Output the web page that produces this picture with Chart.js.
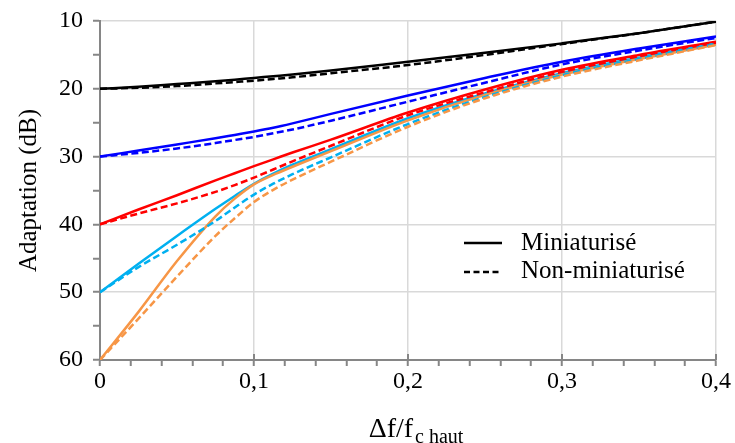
<!DOCTYPE html>
<html>
<head>
<meta charset="utf-8">
<script src="https://cdn.jsdelivr.net/npm/chart.js@4/dist/chart.umd.min.js"></script>
<style>
  html, body { margin: 0; padding: 0; background: #fff; }
  #wrap { width: 735px; height: 443px; }
</style>
</head>
<body>
<div id="wrap"><canvas id="myChart" width="735" height="443"></canvas></div>
<script>
// valeurs
const xs = [0, 0.025, 0.05, 0.075, 0.0875, 0.1, 0.1125, 0.125, 0.15, 0.2, 0.25, 0.3, 0.35, 0.4];

const black20 = [20, 19.7, 19.3, 18.9, 18.65, 18.4, 18.15, 17.9, 17.3, 16.0, 14.7, 13.3, 11.8, 10.1];
const black20NM = [20, 19.85, 19.6, 19.2, 19.0, 18.8, 18.55, 18.3, 17.7, 16.5, 15.0, 13.4, 11.8, 10.1];
const blue30 = [30, 29.1, 28.2, 27.3, 26.8, 26.3, 25.75, 25.1, 23.7, 21.0, 18.4, 16.0, 14.05, 12.3];
const blue30NM = [30, 29.45, 28.8, 28.0, 27.55, 27.1, 26.55, 26.0, 24.7, 21.9, 19.1, 16.4, 14.35, 12.5];
const red40 = [40, 37.8, 35.7, 33.5, 32.45, 31.4, 30.4, 29.4, 27.5, 23.5, 20.1, 17.2, 15.0, 13.05];
const red40NM = [40, 38.4, 36.9, 35.2, 34.2, 33.1, 31.9, 30.7, 28.4, 23.9, 20.5, 17.5, 15.2, 13.2];
const cyan50 = [50, 45.8, 41.7, 37.7, 35.8, 34.0, 32.5, 31.2, 28.9, 24.35, 20.7, 17.7, 15.4, 13.35];
const cyan50NM = [50, 46.3, 43.0, 39.5, 37.5, 35.6, 34.0, 32.6, 30.1, 25.2, 21.2, 18.0, 15.6, 13.4];
const orange60 = [60, 52.9, 45.4, 38.8, 36.2, 34.1, 32.7, 31.5, 29.2, 24.65, 20.9, 17.9, 15.6, 13.5];
const orange60NM = [60, 53.9, 47.7, 41.7, 39.1, 36.7, 34.9, 33.4, 30.75, 25.6, 21.4, 18.2, 15.8, 13.55];

const yTickLabels = ['10', '20', '30', '40', '50', '60'];
const xTickLabels = ['0', '0,1', '0,2', '0,3', '0,4'];
const legendLabels = ['Miniaturisé', 'Non-miniaturisé'];

const FONT = '"Liberation Serif", serif';
const AXIS_GREY = '#868686';
const GRID_GREY = '#d9d9d9';
const LINE_W = 2.5;
const DASH = [7, 3.5];

function makeDataset(values, color, dashed) {
  return {
    data: xs.map((x, i) => ({ x: x, y: values[i] })),
    borderColor: color,
    backgroundColor: color,
    borderWidth: LINE_W,
    borderDash: dashed ? DASH : [],
    pointRadius: 0,
    cubicInterpolationMode: 'monotone',
    fill: false
  };
}

// pointillés d'abord, trait plein par dessus
const datasets = [
  makeDataset(orange60NM, '#f79646', true),
  makeDataset(cyan50NM, '#00b0f0', true),
  makeDataset(red40NM, '#ff0000', true),
  makeDataset(blue30NM, '#0000ff', true),
  makeDataset(black20NM, '#000000', true),
  makeDataset(orange60, '#f79646', false),
  makeDataset(cyan50, '#00b0f0', false),
  makeDataset(red40, '#ff0000', false),
  makeDataset(blue30, '#0000ff', false),
  makeDataset(black20, '#000000', false)
];

const isMajorX = v => Math.round(v * 100) % 10 === 0;
const isMajorY = v => Math.round(v) % 10 === 0;

// légende, titres des axes, graduations principales en x
const decorPlugin = {
  id: 'decor',
  afterDraw(chart) {
    const ctx = chart.ctx;
    const area = chart.chartArea;
    const xScale = chart.scales.x;
    ctx.save();

    // graduations principales qui dépassent au dessus de l'axe x
    ctx.strokeStyle = AXIS_GREY;
    ctx.lineWidth = 2;
    for (let v = 0.1; v <= 0.4001; v += 0.1) {
      const px = Math.round(xScale.getPixelForValue(v));
      ctx.beginPath();
      ctx.moveTo(px, area.bottom);
      ctx.lineTo(px, area.bottom - 6);
      ctx.stroke();
    }

    // légende
    const lx = area.right - 252;
    const ly = area.top + 222;
    ctx.strokeStyle = '#000';
    ctx.lineWidth = LINE_W;
    ctx.beginPath();
    ctx.moveTo(lx, ly);
    ctx.lineTo(lx + 38, ly);
    ctx.stroke();
    ctx.setLineDash([6, 3.5]);
    ctx.beginPath();
    ctx.moveTo(lx, ly + 29);
    ctx.lineTo(lx + 38, ly + 29);
    ctx.stroke();
    ctx.setLineDash([]);
    ctx.fillStyle = '#000';
    ctx.font = '25px ' + FONT;
    ctx.textBaseline = 'middle';
    ctx.textAlign = 'left';
    ctx.fillText(legendLabels[0], lx + 57, ly);
    ctx.fillText(legendLabels[1], lx + 57, ly + 28);

    // titre axe y
    ctx.save();
    ctx.translate(29, (area.top + area.bottom) / 2);
    ctx.rotate(-Math.PI / 2);
    ctx.textAlign = 'center';
    ctx.font = '25px ' + FONT;
    ctx.fillText('Adaptation (dB)', 0, 0);
    ctx.restore();

    // titre axe x : Δf/f avec indice "c haut"
    ctx.textBaseline = 'alphabetic';
    ctx.font = '28px ' + FONT;
    const main = 'Δf/f';
    const wMain = ctx.measureText(main).width;
    ctx.font = '20px ' + FONT;
    const sub = 'c haut';
    const wSub = ctx.measureText(sub).width;
    const cx = (area.left + area.right) / 2 + 8;
    const start = cx - (wMain + wSub + 2) / 2;
    ctx.font = '28px ' + FONT;
    ctx.fillText(main, start, 437);
    ctx.font = '20px ' + FONT;
    ctx.fillText(sub, start + wMain + 2, 443);

    ctx.restore();
  }
};

var ctx = document.getElementById('myChart').getContext('2d');
var myChart = new Chart(ctx, {
  type: 'line',
  data: { datasets: datasets },
  plugins: [decorPlugin],
  options: {
    responsive: false,
    animation: false,
    events: [],
    layout: { padding: { top: 21, right: 19, left: 0, bottom: 0 } },
    plugins: {
      legend: { display: false },
      tooltip: { enabled: false }
    },
    scales: {
      x: {
        type: 'linear',
        min: 0,
        max: 0.4,
        afterFit(scale) { scale.height = 83; },
        ticks: {
          stepSize: 0.02,
          autoSkip: false,
          maxRotation: 0,
          padding: 1,
          color: '#000',
          font: { family: FONT, size: 24 },
          callback(v) {
            if (!isMajorX(v)) return '';
            return xTickLabels[Math.round(v * 10)];
          }
        },
        grid: {
          color: ctx => isMajorX(ctx.tick.value) && ctx.tick.value > 0 ? GRID_GREY : 'rgba(0,0,0,0)',
          lineWidth: 1.5,
          tickColor: AXIS_GREY,
          tickWidth: 2,
          tickLength: 6
        },
        border: { color: AXIS_GREY, width: 2 }
      },
      y: {
        type: 'linear',
        reverse: true,
        min: 10,
        max: 60,
        afterFit(scale) {
          scale.width = 100;
          scale.paddingTop = 0;
          scale.paddingBottom = 0;
        },
        ticks: {
          stepSize: 5,
          autoSkip: false,
          padding: 10,
          color: '#000',
          font: { family: FONT, size: 24 },
          callback(v) {
            if (!isMajorY(v)) return '';
            return yTickLabels[Math.round(v / 10) - 1];
          }
        },
        grid: {
          color: ctx => isMajorY(ctx.tick.value) && ctx.tick.value < 60 ? GRID_GREY : 'rgba(0,0,0,0)',
          lineWidth: 1.5,
          tickColor: AXIS_GREY,
          tickWidth: 2,
          tickLength: 7
        },
        border: { color: AXIS_GREY, width: 2 }
      }
    }
  }
});
</script>
</body>
</html>
